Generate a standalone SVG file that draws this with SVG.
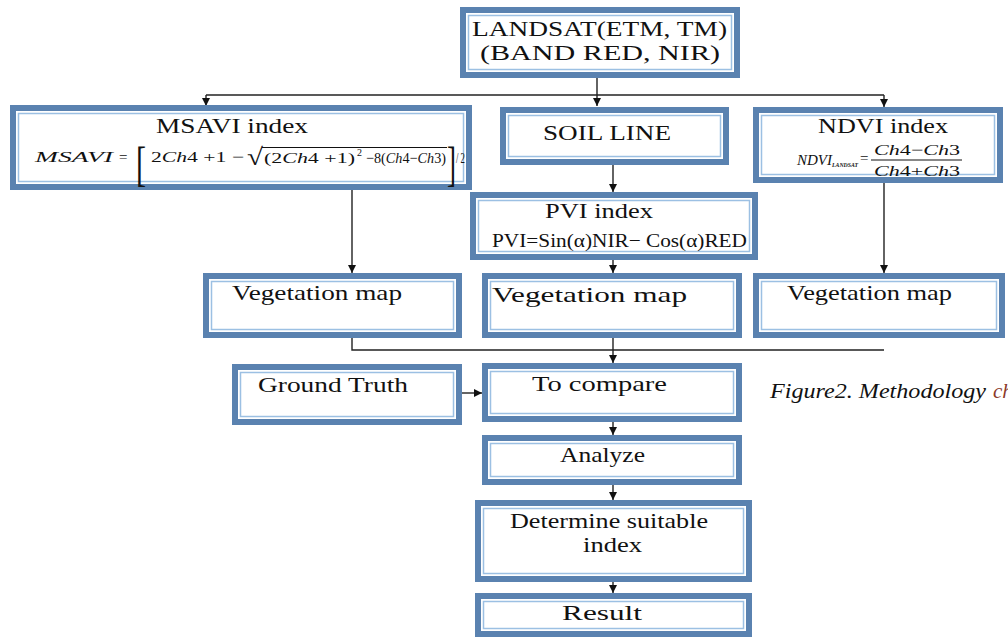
<svg xmlns="http://www.w3.org/2000/svg" width="1008" height="638" viewBox="0 0 1008 638">
<style>
.ob{fill:#5a82b0}
.ib{fill:#ffffff}
.il{fill:none;stroke:#9cc0e3;stroke-width:1.5}
text{font-family:"Liberation Serif","Times New Roman",Times,serif}
.t{font-size:22px;fill:#111}
.f{font-size:15px;fill:#111}
.it{font-style:italic}
.c{fill:none;stroke:#222;stroke-width:1.4}
.cap{font-size:21px;font-style:italic;fill:#111}
</style>
<defs>
<marker id="ah" viewBox="0 0 10 10" refX="10" refY="5" markerWidth="8" markerHeight="8" markerUnits="userSpaceOnUse" orient="auto">
<path d="M0,0 L10,5 L0,10 z" fill="#111"/>
</marker>
</defs>
<rect width="1008" height="638" fill="#ffffff"/>

<g id="connectors">
<line class="c" x1="597" y1="78" x2="597" y2="106" marker-end="url(#ah)"/>
<line class="c" x1="206" y1="95" x2="884" y2="95"/>
<line class="c" x1="206" y1="95" x2="206" y2="106" marker-end="url(#ah)"/>
<line class="c" x1="884" y1="95" x2="884" y2="107" marker-end="url(#ah)"/>
<line class="c" x1="613" y1="165" x2="613" y2="192" marker-end="url(#ah)"/>
<line class="c" x1="352" y1="190" x2="352" y2="273" marker-end="url(#ah)"/>
<line class="c" x1="884" y1="183" x2="884" y2="273" marker-end="url(#ah)"/>
<line class="c" x1="613" y1="260" x2="613" y2="273" marker-end="url(#ah)"/>
<polyline class="c" points="352,338 352,350 884,350"/>
<line class="c" x1="613" y1="337" x2="613" y2="363" marker-end="url(#ah)"/>
<line class="c" x1="462" y1="393" x2="482" y2="393" marker-end="url(#ah)"/>
<line class="c" x1="613" y1="422" x2="613" y2="435" marker-end="url(#ah)"/>
<line class="c" x1="613" y1="485" x2="613" y2="500" marker-end="url(#ah)"/>
<line class="c" x1="613" y1="582" x2="613" y2="593" marker-end="url(#ah)"/>
</g>

<g id="landsat">
<rect class="ob" x="460" y="7" width="280" height="71"/>
<rect class="ib" x="466" y="13" width="268" height="59"/>
<rect class="il" x="468.5" y="15.5" width="263" height="54"/>
<text class="t" x="472" y="36" textLength="255" lengthAdjust="spacingAndGlyphs">LANDSAT(ETM, TM)</text>
<text class="t" x="480" y="60" textLength="240" lengthAdjust="spacingAndGlyphs">(BAND RED, NIR)</text>
</g>

<g id="msavi">
<rect class="ob" x="10" y="105" width="462" height="85"/>
<rect class="ib" x="16" y="111" width="450" height="73"/>
<rect class="il" x="18.5" y="113.5" width="445" height="68"/>
<text class="t" x="156" y="133" textLength="152" lengthAdjust="spacingAndGlyphs">MSAVI index</text>
<text class="f it" x="35" y="162" textLength="78" lengthAdjust="spacingAndGlyphs">MSAVI</text>
<text class="f" x="119" y="162">=</text>
<text class="f" x="136" y="180" style="font-size:48px" textLength="10" lengthAdjust="spacingAndGlyphs">[</text>
<text class="f" x="151" y="162" textLength="93" lengthAdjust="spacingAndGlyphs">2<tspan class="it">Ch</tspan>4 +1 −</text>
<text class="f" x="247" y="165" style="font-size:24px" textLength="16" lengthAdjust="spacingAndGlyphs">√</text>
<line x1="262" y1="147.5" x2="447" y2="147.5" stroke="#111" stroke-width="1"/>
<text class="f" x="264" y="163" textLength="91" lengthAdjust="spacingAndGlyphs">(2<tspan class="it">Ch</tspan>4 +1)</text>
<text class="f" x="357" y="156" style="font-size:10px">2</text>
<text class="f" x="366" y="163" textLength="80" lengthAdjust="spacingAndGlyphs">−8(<tspan class="it">Ch</tspan>4−<tspan class="it">Ch</tspan>3)</text>
<text class="f" x="447" y="180" style="font-size:48px" textLength="9" lengthAdjust="spacingAndGlyphs">]</text>
<text class="f" x="456" y="163" textLength="9" lengthAdjust="spacingAndGlyphs">/ 2</text>
</g>

<g id="soil">
<rect class="ob" x="500" y="107" width="229" height="58"/>
<rect class="ib" x="506" y="113" width="217" height="46"/>
<rect class="il" x="508.5" y="115.5" width="212" height="41"/>
<text class="t" x="543" y="140" textLength="128" lengthAdjust="spacingAndGlyphs">SOIL LINE</text>
</g>

<g id="ndvi">
<rect class="ob" x="753" y="107" width="250" height="76"/>
<rect class="ib" x="759" y="113" width="238" height="64"/>
<rect class="il" x="761.5" y="115.5" width="233" height="59"/>
<text class="t" x="818" y="133" textLength="130" lengthAdjust="spacingAndGlyphs">NDVI index</text>
<text class="f it" x="797" y="165" textLength="35" lengthAdjust="spacingAndGlyphs">NDVI</text>
<text class="f it" x="832" y="167" style="font-size:7px;font-weight:bold" textLength="26" lengthAdjust="spacingAndGlyphs">LANDSAT</text>
<text class="f" x="860" y="163">=</text>
<text class="f" x="874" y="155" textLength="86" lengthAdjust="spacingAndGlyphs"><tspan class="it">Ch</tspan>4−<tspan class="it">Ch</tspan>3</text>
<line x1="871" y1="160" x2="962" y2="160" stroke="#111" stroke-width="1"/>
<text class="f" x="874" y="176" textLength="86" lengthAdjust="spacingAndGlyphs"><tspan class="it">Ch</tspan>4+<tspan class="it">Ch</tspan>3</text>
</g>

<g id="pvi">
<rect class="ob" x="470" y="192" width="288" height="68"/>
<rect class="ib" x="476" y="198" width="276" height="56"/>
<rect class="il" x="478.5" y="200.5" width="271" height="51"/>
<text class="t" x="545" y="218" textLength="108" lengthAdjust="spacingAndGlyphs">PVI index</text>
<text class="t" x="492" y="247" style="font-size:19px" textLength="255" lengthAdjust="spacingAndGlyphs">PVI=Sin(α)NIR− Cos(α)RED</text>
</g>

<g id="veg1">
<rect class="ob" x="203" y="273" width="259" height="65"/>
<rect class="ib" x="209" y="279" width="247" height="53"/>
<rect class="il" x="211.5" y="281.5" width="242" height="48"/>
<text class="t" x="232" y="300" textLength="170" lengthAdjust="spacingAndGlyphs">Vegetation map</text>
</g>

<g id="veg2">
<rect class="ob" x="482" y="273" width="260" height="65"/>
<rect class="ib" x="488" y="279" width="248" height="53"/>
<rect class="il" x="490.5" y="281.5" width="243" height="48"/>
<text class="t" x="492" y="302" textLength="195" lengthAdjust="spacingAndGlyphs">Vegetation map</text>
</g>

<g id="veg3">
<rect class="ob" x="753" y="273" width="252" height="65"/>
<rect class="ib" x="759" y="279" width="240" height="53"/>
<rect class="il" x="761.5" y="281.5" width="235" height="48"/>
<text class="t" x="787" y="300" textLength="165" lengthAdjust="spacingAndGlyphs">Vegetation map</text>
</g>

<g id="ground">
<rect class="ob" x="232" y="364" width="230" height="61"/>
<rect class="ib" x="238" y="370" width="218" height="49"/>
<rect class="il" x="240.5" y="372.5" width="213" height="44"/>
<text class="t" x="258" y="392" textLength="150" lengthAdjust="spacingAndGlyphs">Ground Truth</text>
</g>

<g id="compare">
<rect class="ob" x="482" y="363" width="260" height="59"/>
<rect class="ib" x="488" y="369" width="248" height="47"/>
<rect class="il" x="490.5" y="371.5" width="243" height="42"/>
<text class="t" x="532" y="391" textLength="135" lengthAdjust="spacingAndGlyphs">To compare</text>
</g>

<g id="analyze">
<rect class="ob" x="482" y="435" width="260" height="50"/>
<rect class="ib" x="488" y="441" width="248" height="38"/>
<rect class="il" x="490.5" y="443.5" width="243" height="33"/>
<text class="t" x="560" y="462" textLength="85" lengthAdjust="spacingAndGlyphs">Analyze</text>
</g>

<g id="determine">
<rect class="ob" x="475" y="500" width="277" height="82"/>
<rect class="ib" x="481" y="506" width="265" height="70"/>
<rect class="il" x="483.5" y="508.5" width="260" height="65"/>
<text class="t" x="510" y="528" textLength="198" lengthAdjust="spacingAndGlyphs">Determine suitable</text>
<text class="t" x="583" y="552" textLength="59" lengthAdjust="spacingAndGlyphs">index</text>
</g>

<g id="result">
<rect class="ob" x="475" y="593" width="277" height="44"/>
<rect class="ib" x="481" y="599" width="265" height="32"/>
<rect class="il" x="483.5" y="601.5" width="260" height="27"/>
<text class="t" x="562" y="620" textLength="80" lengthAdjust="spacingAndGlyphs">Result</text>
</g>

<g id="caption">
<text class="cap" x="770" y="398" textLength="216" lengthAdjust="spacingAndGlyphs">Figure2. Methodology</text>
<text class="cap" x="993" y="398" style="fill:#8b3a2a">ch</text>
</g>
</svg>
